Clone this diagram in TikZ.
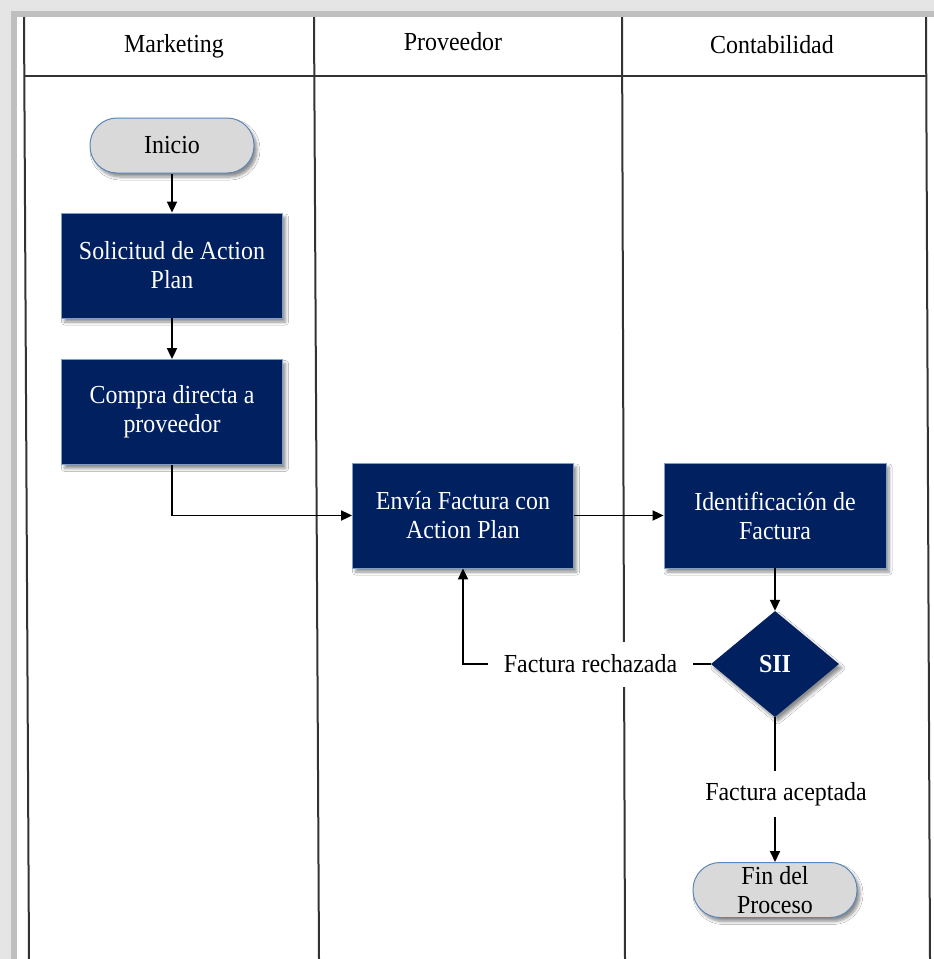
\documentclass[tikz,border=0pt]{standalone}
\usepackage{fontspec}
\setmainfont[FakeStretch=0.92]{Liberation Serif}
\usetikzlibrary{shapes.geometric,shadows.blur,arrows.meta}
\definecolor{navy}{HTML}{002060}
\definecolor{edgeblue}{HTML}{5B87B8}
\definecolor{termfill}{HTML}{D9D9D9}
\begin{document}
\begin{tikzpicture}[x=1pt,y=-1pt,
  txt/.style={font=\fontsize{26}{29}\selectfont},
  shad/.style={blur shadow={shadow xshift=3pt,shadow yshift=-4pt,shadow blur radius=3pt,shadow blur steps=6,shadow opacity=45}},
  proc/.style={txt,rectangle,fill=navy,draw=edgeblue!80,line width=0.8pt,text=white,align=center,
    minimum width=221pt,minimum height=105pt,inner sep=0pt,shad},
  term/.style={txt,rectangle,rounded corners=27pt,fill=termfill,draw=edgeblue,line width=1pt,align=center,
    minimum width=164pt,minimum height=55pt,inner sep=0pt,shad},
  dec/.style={diamond,fill=navy,text=white,minimum width=128pt,minimum height=106pt,inner sep=0pt,
    font=\fontsize{26}{29}\selectfont\bfseries,shad},
  lbl/.style={txt,fill=white,inner xsep=16pt,inner ysep=0pt,minimum height=45pt},
  hdr/.style={txt,anchor=base,inner sep=0pt},
  conn/.style={line width=1.8pt,black},
  arr/.style={conn,-{Triangle[length=11pt,width=10pt]}},
  lane/.style={line width=2pt,black!80}
]
\useasboundingbox (0,0) rectangle (934,959);
% frame / shadow band
\fill[gray!20] (0,0) rectangle (934,959);
\fill[gray!50] (11,11) rectangle (934,959);
\fill[white] (17,17) rectangle (934,959);
% swimlanes
\draw[lane] (24,17) -- (29,959);
\draw[lane] (314,17) -- (319,959);
\draw[lane] (622,17) -- (625,959);
\draw[lane] (926,17) -- (930,959);
\draw[lane] (24,76) -- (926,76);
% headers
\node[hdr] (hm) at (174,52) {Marketing};
\node[hdr] (hp) at (453,50) {Proveedor};
\node[hdr] (hc) at (772,53) {Contabilidad};
% nodes
\node[term] (ini) at (172,145.5) {Inicio};
\node[proc] (sol) at (172,265.5) {Solicitud de Action\\Plan};
\node[proc] (comp) at (172,412) {Compra directa a\\proveedor};
\node[proc] (env) at (463,515.5) {Envía Factura con\\Action Plan};
\node[proc,minimum width=222pt] (ident) at (775,515.5) {Identificación de\\Factura};
\node[dec] (sii) at (775,664) {SII};
\node[lbl] (rech) at (590.5,664) {Factura rechazada};
\node[lbl] (acep) at (786,794) {Factura aceptada};
\node[term] (fin) at (775,890) {Fin del\\Proceso};
% connectors
\draw[arr] (ini) -- (sol);
\draw[arr] (sol) -- (comp);
\draw[arr] (comp.south) |- (env.west);
\draw[arr] (env.east) -- (ident.west);
\draw[arr] (ident.south) -- (sii.north);
\draw[conn] (sii.west) -- (rech.east);
\draw[arr] (rech.west) -| (env.south);
\draw[conn] (sii.south) -- (sii.south |- acep.north);
\draw[arr] (sii.south |- acep.south) -- (fin.north);
\end{tikzpicture}
\end{document}
